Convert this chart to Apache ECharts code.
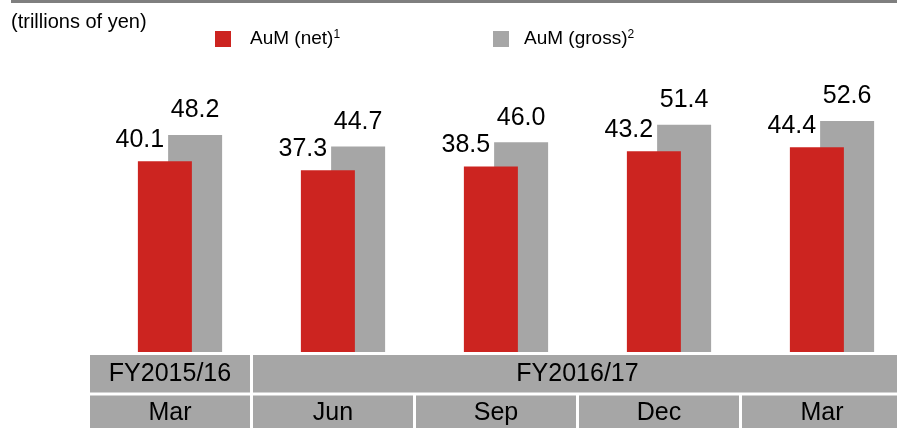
<!DOCTYPE html>
<html>
<head>
<meta charset="utf-8">
<script src="https://cdn.jsdelivr.net/npm/echarts@6/dist/echarts.min.js"></script>
<style>
  html, body { margin: 0; padding: 0; background: #fff; }
  #chart { width: 897px; height: 428px; }
</style>
</head>
<body>
<div id="chart"></div>
<script>
// data
const periods = ['Mar 2016', 'Jun 2016', 'Sep 2016', 'Dec 2016', 'Mar 2017'];
const months = ['Mar', 'Jun', 'Sep', 'Dec', 'Mar'];
const fiscalYears = ['FY2015/16', 'FY2016/17'];
const fiscalQuarters = [1, 4];
const aumNet = [40.1, 37.3, 38.5, 43.2, 44.4];
const aumGross = [48.2, 44.7, 46.0, 51.4, 52.6];

const RED = '#cc2420';
const GREY = '#a6a6a6';
const FONT = 'Liberation Sans, Arial, sans-serif';

// fiscal year spans as [firstIndex, lastIndex]
let start = 0;
const fySpans = fiscalQuarters.map(function (n) {
    const s = [start, start + n - 1];
    start += n;
    return s;
});

function cellText(text, x, y) {
    return {
        type: 'text',
        style: {
            text: text, x: x, y: y,
            align: 'center', verticalAlign: 'middle',
            fontSize: 25, fontFamily: FONT, fill: '#000'
        }
    };
}

// bottom row: one cell per quarter
function renderMonth(params, api) {
    const cs = params.coordSys;
    const band = api.size([1, 0])[0];
    const cx = api.coord([api.value(0), 0])[0];
    const top = cs.y + 40.5;
    return {
        type: 'group',
        children: [
            {type: 'rect', shape: {x: cx - band / 2 + 1.5, y: top, width: band - 3, height: 40}, style: {fill: GREY}},
            cellText(months[params.dataIndex], cx, top + 18)
        ]
    };
}

// top row: one cell per fiscal year, spanning its quarters
function renderYear(params, api) {
    const cs = params.coordSys;
    const band = api.size([1, 0])[0];
    const x0 = api.coord([api.value(0), 0])[0] - band / 2 + 1.5;
    const x1 = api.coord([api.value(1), 0])[0] + band / 2 - 1.5;
    return {
        type: 'group',
        children: [
            {type: 'rect', shape: {x: x0, y: cs.y, width: x1 - x0, height: 37.5}, style: {fill: GREY}},
            cellText(fiscalYears[params.dataIndex], (x0 + x1) / 2, cs.y + 19)
        ]
    };
}

const chart = echarts.init(document.getElementById('chart'), null, {renderer: 'canvas'});

const option = {
    animation: false,
    textStyle: {fontFamily: FONT},
    graphic: [
        {type: 'rect', left: 11, top: 0, shape: {width: 886, height: 3}, style: {fill: '#7f7f7f'}},
        {type: 'text', left: 11, top: 12, style: {text: '(trillions of yen)', fontSize: 20, fontFamily: FONT, fill: '#000'}}
    ],
    legend: [
        {
            data: ['AuM (net)'], left: 210, top: 24, icon: 'rect',
            itemWidth: 16, itemHeight: 16, selectedMode: false,
            formatter: function (n) { return '{a|' + n + '}{s|1}'; },
            textStyle: {
                padding: [0, 0, 0, 14],
                rich: {
                    a: {fontSize: 19, fontFamily: FONT, color: '#000'},
                    s: {fontSize: 12, fontFamily: FONT, color: '#000', verticalAlign: 'top', padding: [0, 0, 8, 0]}
                }
            }
        },
        {
            data: ['AuM (gross)'], left: 488, top: 24, icon: 'rect',
            itemWidth: 16, itemHeight: 16, selectedMode: false,
            formatter: function (n) { return '{a|' + n + '}{s|2}'; },
            textStyle: {
                padding: [0, 0, 0, 10],
                rich: {
                    a: {fontSize: 19, fontFamily: FONT, color: '#000'},
                    s: {fontSize: 12, fontFamily: FONT, color: '#000', verticalAlign: 'top', padding: [0, 0, 8, 0]}
                }
            }
        }
    ],
    grid: [
        {left: 98.5, top: 97, width: 815, height: 255, outerBoundsMode: 'none', containLabel: false},
        {left: 88.5, top: 355, width: 815, height: 77, outerBoundsMode: 'none', containLabel: false}
    ],
    xAxis: [
        {type: 'category', gridIndex: 0, data: periods, show: false},
        {type: 'category', gridIndex: 1, data: periods, show: false}
    ],
    yAxis: [
        {type: 'value', gridIndex: 0, min: -19, max: 60, startValue: -19, show: false, splitLine: {show: false}},
        {type: 'value', gridIndex: 1, min: 0, max: 10, show: false, splitLine: {show: false}}
    ],
    series: [
        {
            name: 'AuM (net)', type: 'bar', data: aumNet, z: 3,
            barWidth: 54, barGap: '-44%',
            itemStyle: {color: RED},
            label: {
                show: true, position: 'top', distance: 9, offset: [-25, 0],
                fontSize: 25, fontFamily: FONT, color: '#000',
                formatter: function (p) { return p.value.toFixed(1); }
            }
        },
        {
            name: 'AuM (gross)', type: 'bar', data: aumGross, z: 2,
            barWidth: 54,
            itemStyle: {color: GREY},
            label: {
                show: true, position: 'top', distance: 12,
                fontSize: 25, fontFamily: FONT, color: '#000',
                formatter: function (p) { return p.value.toFixed(1); }
            }
        },
        {
            type: 'custom', name: 'years', xAxisIndex: 1, yAxisIndex: 1,
            data: fySpans, renderItem: renderYear, silent: true
        },
        {
            type: 'custom', name: 'months', xAxisIndex: 1, yAxisIndex: 1,
            data: months.map(function (m, i) { return [i, 0]; }),
            renderItem: renderMonth, silent: true
        }
    ]
};

chart.setOption(option);
</script>
</body>
</html>
